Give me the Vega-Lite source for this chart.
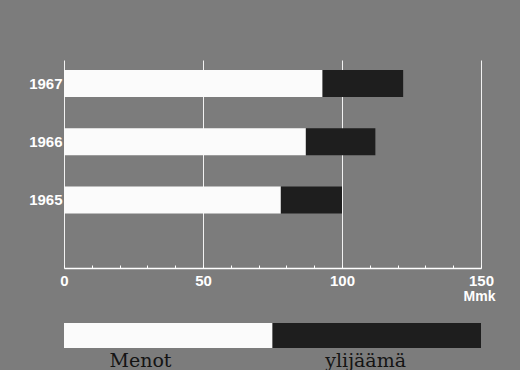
{
  "$schema": "https://vega.github.io/schema/vega-lite/v6.json",
  "background": "#7c7c7c",
  "padding": {"left": 28, "top": 60, "right": 25, "bottom": 2},
  "bounds": "flush",
  "spacing": 55,
  "config": {
    "view": {"stroke": null},
    "font": "Liberation Sans"
  },
  "vconcat": [
    {
      "width": 417,
      "height": 208,
      "data": {
        "values": [
          {"year": "1967", "kind": "Menot", "ord": 1, "value": 93},
          {"year": "1967", "kind": "ylijäämä", "ord": 2, "value": 29},
          {"year": "1966", "kind": "Menot", "ord": 1, "value": 87},
          {"year": "1966", "kind": "ylijäämä", "ord": 2, "value": 25},
          {"year": "1965", "kind": "Menot", "ord": 1, "value": 78},
          {"year": "1965", "kind": "ylijäämä", "ord": 2, "value": 22}
        ]
      },
      "mark": {"type": "bar"},
      "encoding": {
        "y": {
          "field": "year",
          "type": "nominal",
          "sort": "descending",
          "scale": {"paddingInner": 0.536, "paddingOuter": 0.553, "align": 0.155},
          "axis": {
            "title": null,
            "domain": false,
            "ticks": false,
            "labelColor": "#ffffff",
            "labelFontWeight": "bold",
            "labelFontSize": 15,
            "labelPadding": 2
          }
        },
        "x": {
          "field": "value",
          "type": "quantitative",
          "stack": "zero",
          "scale": {"domain": [0, 150], "nice": false},
          "axis": {
            "values": [0, 10, 20, 30, 40, 50, 60, 70, 80, 90, 100, 110, 120, 130, 140, 150],
            "labelExpr": "datum.value % 50 === 0 ? datum.label : ''",
            "grid": true,
            "gridColor": "#ffffff",
            "gridWidth": 1,
            "gridOpacity": {"condition": {"test": "datum.value % 50 === 0", "value": 0.9}, "value": 0},
            "domainColor": "#ffffff",
            "domainWidth": 1.5,
            "tickColor": "#ffffff",
            "tickSize": -3,
            "labelColor": "#ffffff",
            "labelFontWeight": "bold",
            "labelFontSize": 15,
            "labelPadding": 8,
            "labelFlush": false,
            "title": "Mmk",
            "titleColor": "#ffffff",
            "titleFontSize": 14,
            "titleFontWeight": "bold",
            "titleX": 415,
            "titleY": 21,
            "titleAlign": "center",
            "titleBaseline": "top"
          }
        },
        "color": {
          "field": "kind",
          "type": "nominal",
          "scale": {"domain": ["Menot", "ylijäämä"], "range": ["#fbfbfb", "#1e1e1e"]},
          "legend": null
        },
        "order": {"field": "ord"}
      }
    },
    {
      "width": 417,
      "height": 25,
      "data": {
        "values": [
          {"row": "legend", "label": "Menot", "start": 0, "end": 75, "pos": 27.5},
          {"row": "legend", "label": "ylijäämä", "start": 75, "end": 150, "pos": 108.5}
        ]
      },
      "encoding": {
        "y": {"field": "row", "type": "nominal", "scale": {"paddingInner": 0, "paddingOuter": 0}, "axis": null}
      },
      "layer": [
        {
          "mark": {"type": "bar"},
          "encoding": {
            "x": {"field": "start", "type": "quantitative", "scale": {"domain": [0, 150], "nice": false}, "axis": null},
            "x2": {"field": "end"},
            "color": {"field": "label", "type": "nominal", "scale": {"domain": ["Menot", "ylijäämä"], "range": ["#fbfbfb", "#1e1e1e"]}, "legend": null}
          }
        },
        {
          "mark": {"type": "text", "font": "DejaVu Serif", "fontSize": 19, "color": "#141414", "baseline": "middle", "dy": 25},
          "encoding": {
            "x": {"field": "pos", "type": "quantitative"},
            "text": {"field": "label"}
          }
        }
      ]
    }
  ]
}
